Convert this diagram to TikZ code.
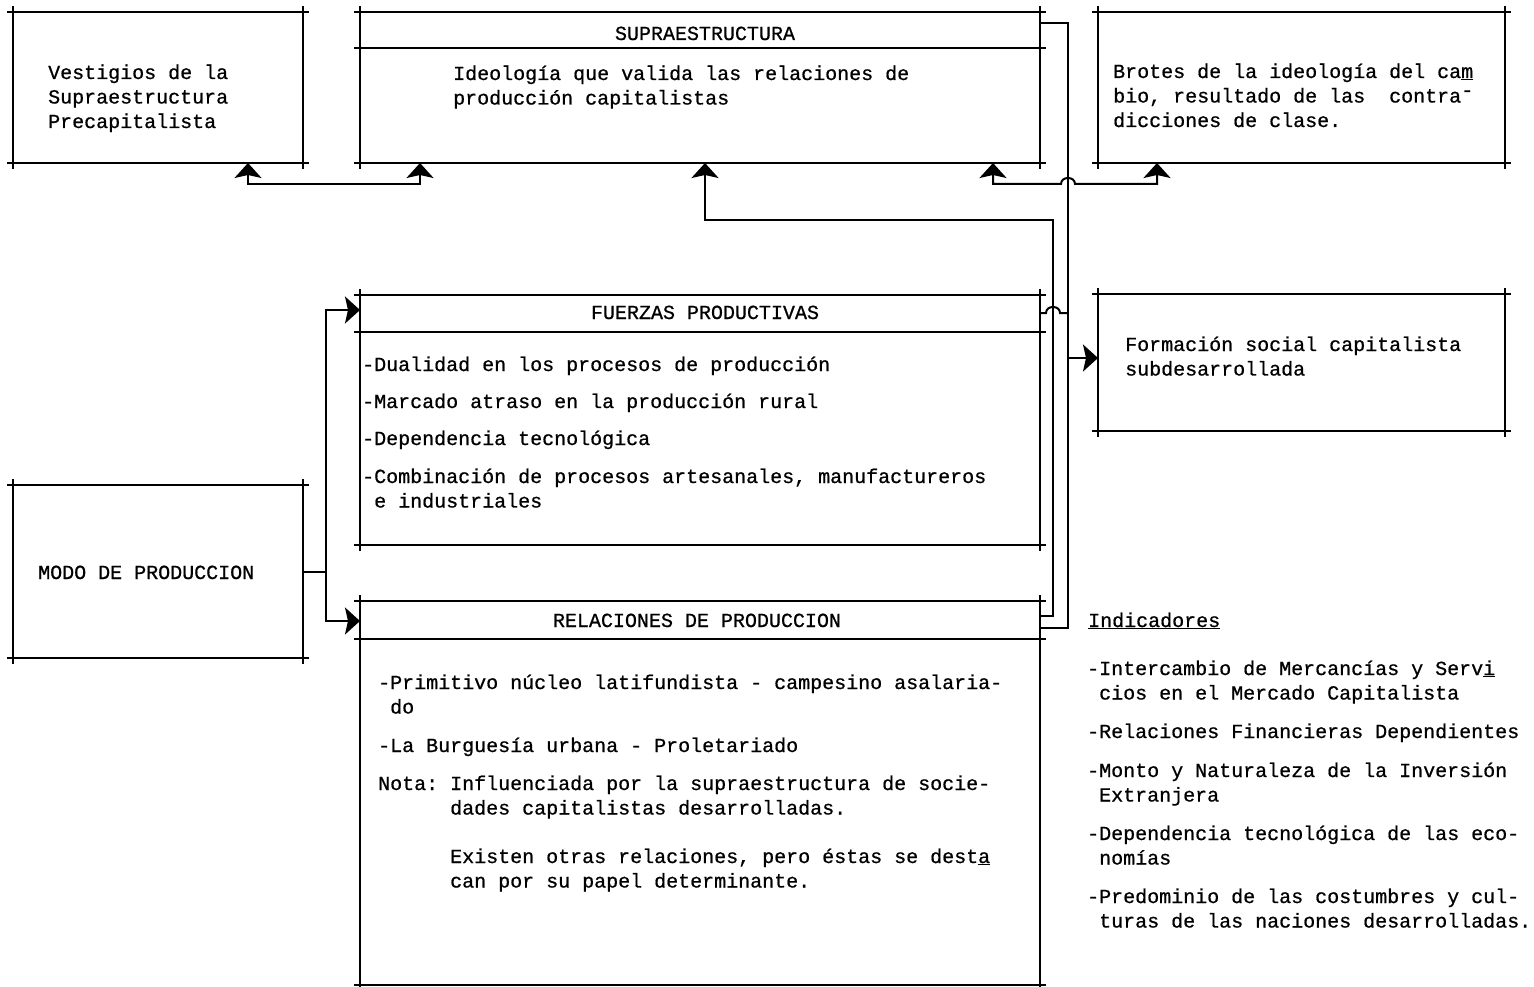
\documentclass[tikz,border=0pt]{standalone}
\usepackage{fontspec}
\setmonofont[FakeBold=0.7]{Liberation Mono}
\usetikzlibrary{arrows.meta,calc}
\tikzset{
  ln/.style={line width=1.8pt},
  conn/.style={line width=2pt},
  bigtip/.tip={Stealth[length=15pt,width=27pt,inset=3pt]},
  txt/.style={font=\ttfamily\fontsize{20}{24.5}\selectfont, inner sep=0pt, anchor=base west},
  ttl/.style={txt, anchor=base},
  boxn/.style={inner sep=0pt, outer sep=0pt, draw=none}
}
\newcommand\xbox[5]{%
  \node[boxn, minimum width={(#4-#2)*1pt}, minimum height={(#5-#3)*1pt}] (#1) at ({(#2+#4)/2},{(#3+#5)/2}) {};
  \draw[ln] ([xshift=-6pt]#1.north west) -- ([xshift=6pt]#1.north east);
  \draw[ln] ([xshift=-6pt]#1.south west) -- ([xshift=6pt]#1.south east);
  \draw[ln] ([yshift=6pt]#1.north west) -- ([yshift=-6pt]#1.south west);
  \draw[ln] ([yshift=6pt]#1.north east) -- ([yshift=-6pt]#1.south east);
}
\newcommand\xsep[2]{%
  \coordinate (#1sep) at (0,#2);
  \draw[ln] ($(#1.west |- #1sep)+(-6,0)$) -- ($(#1.east |- #1sep)+(6,0)$);
}
\begin{document}
\begin{tikzpicture}[x=1pt,y=-1pt]
\fill[white] (0,0) rectangle (1534,987);
\useasboundingbox (0,0) rectangle (1534,987);

% boxes
\xbox{vest}{13}{12}{303}{163}
\xbox{supra}{360}{12}{1040}{163}
\xsep{supra}{48}
\xbox{brotes}{1098}{12}{1505}{163}
\xbox{fuer}{360}{295}{1040}{545}
\xsep{fuer}{332}
\xbox{form}{1098}{294}{1505}{431}
\xbox{modo}{13}{485}{303}{658}
\xbox{rel}{360}{601}{1040}{985}
\xsep{rel}{639}

% texts
\node[txt] (v1) at (48,79) {Vestigios de la};
\node[txt] (v2) at (48,103.5) {Supraestructura};
\node[txt] (v3) at (48,128) {Precapitalista};

\node[ttl] (supraT) at (705,40) {SUPRAESTRUCTURA};
\node[txt] (s1) at (453,80) {Ideología que valida las relaciones de};
\node[txt] (s2) at (453,104.5) {producción capitalistas};

\node[txt] (b1t) at (1113,78) {Brotes de la ideología del ca\underline{m}};
\node[txt] (b2t) at (1113,102.5) {bio, resultado de las~~contra\raisebox{0.3em}{-}};
\node[txt] (b3t) at (1113,127) {dicciones de clase.};

\node[ttl] (fuerT) at (705,319) {FUERZAS PRODUCTIVAS};
\node[txt] (f1t) at (362,371) {-Dualidad en los procesos de producción};
\node[txt] (f2t) at (362,408) {-Marcado atraso en la producción rural};
\node[txt] (f3t) at (362,445) {-Dependencia tecnológica};
\node[txt] (f4t) at (362,483) {-Combinación de procesos artesanales, manufactureros};
\node[txt] (f5t) at (362,507.5) {~e industriales};

\node[txt] (fo1) at (1125,351) {Formación social capitalista};
\node[txt] (fo2) at (1125,375.5) {subdesarrollada};

\node[txt] (m1) at (38,579) {MODO DE PRODUCCION};

\node[ttl] (relT) at (697,627) {RELACIONES DE PRODUCCION};
\node[txt] (r1) at (378,689) {-Primitivo núcleo latifundista - campesino asalaria-};
\node[txt] (r2) at (378,713.5) {~do};
\node[txt] (r3) at (378,752) {-La Burguesía urbana - Proletariado};
\node[txt] (r4) at (378,790) {Nota: Influenciada por la supraestructura de socie-};
\node[txt] (r5) at (378,814.5) {~~~~~~dades capitalistas desarrolladas.};
\node[txt] (r6) at (378,863) {~~~~~~Existen otras relaciones, pero éstas se dest\underline{a}};
\node[txt] (r7) at (378,887.5) {~~~~~~can por su papel determinante.};

\node[txt] (iT) at (1088,627) {\underline{Indicadores}};
\node[txt] (i1) at (1087,675) {-Intercambio de Mercancías y Serv\underline{i}};
\node[txt] (i2) at (1087,699.5) {~cios en el Mercado Capitalista};
\node[txt] (i3) at (1087,738) {-Relaciones Financieras Dependientes};
\node[txt] (i4) at (1087,777) {-Monto y Naturaleza de la Inversión};
\node[txt] (i5) at (1087,801.5) {~Extranjera};
\node[txt] (i6) at (1087,840) {-Dependencia tecnológica de las eco-};
\node[txt] (i7) at (1087,864.5) {~nomías};
\node[txt] (i8) at (1087,903) {-Predominio de las costumbres y cul-};
\node[txt] (i9) at (1087,927.5) {~turas de las naciones desarrolladas.};

% connectors
\coordinate (jm) at (326,571.5);
\coordinate (yF) at (0,310);
\coordinate (yR) at (0,621);
\draw[conn,-bigtip] (modo.east) -- (jm) |- (fuer.west |- yF);
\draw[conn,-bigtip] (jm) |- (rel.west |- yR);

\coordinate (c1) at (248,184);
\coordinate (c2) at (420,184);
\draw[conn,bigtip-bigtip] (vest.south -| c1) -- (c1) -- (c2) -- (supra.south -| c2);

\coordinate (a1) at (1053,616);
\coordinate (a2) at (1053,220);
\coordinate (a3) at (705,220);
\draw[conn,-bigtip] (rel.east |- a1) -- (a1) -- (a2) -- (a3) -- (supra.south -| a3);

\coordinate (bb1) at (1068,23);
\coordinate (bb2) at (1068,628);
\draw[conn] (supra.east |- bb1) -- (bb1) -- (bb2) -- (rel.east |- bb2);

\coordinate (d1) at (993,184);
\coordinate (d2) at (1157,184);
\draw[conn,bigtip-bigtip] (supra.south -| d1) -- (d1) -- (1061,184) .. controls (1061,176) and (1075,176) .. (1075,184) -- (d2) -- (brotes.south -| d2);

\coordinate (h0) at (1040,313);
\draw[conn] (fuer.east |- h0) -- (1046,313) .. controls (1046,305) and (1060,305) .. (1060,313) -- (1068,313);

\coordinate (fa) at (1068,358);
\draw[conn,-bigtip] (fa) -- (form.west |- fa);
\end{tikzpicture}
\end{document}
